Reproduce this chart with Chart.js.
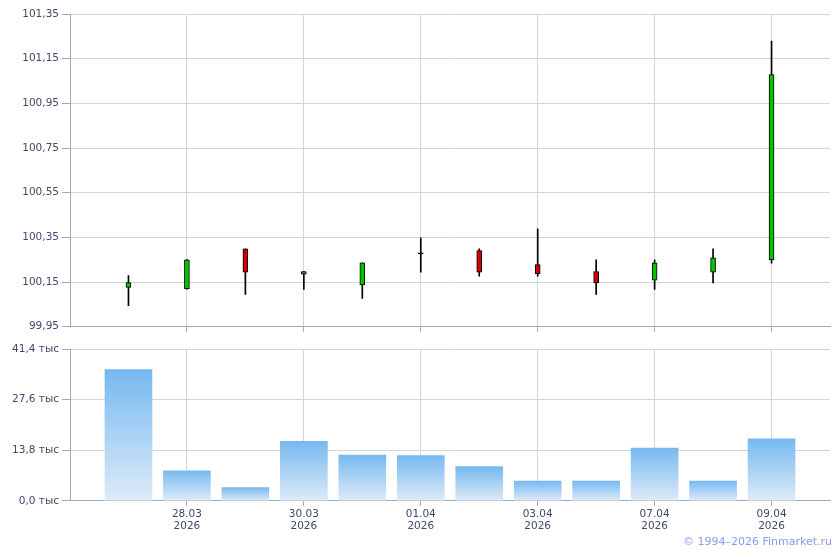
<!DOCTYPE html>
<html>
<head>
<meta charset="utf-8">
<script src="https://cdn.jsdelivr.net/npm/chart.js@4"></script>
<style>
    html, body { margin: 0; padding: 0; background: #fff; }
    #wrap { position: relative; width: 840px; height: 550px; }
    #priceBox { position: absolute; left: 0; top: 0; width: 840px; height: 336px; }
    #volBox { position: absolute; left: 0; top: 335px; width: 840px; height: 200px; }
    #copy {
        position: absolute; right: 8px; top: 535px;
        font: 11px Verdana, "DejaVu Sans", sans-serif; color: #8a9af0;
    }
</style>
</head>
<body>
<div id="wrap">
    <div id="priceBox"><canvas id="priceChart"></canvas></div>
    <div id="volBox"><canvas id="volChart"></canvas></div>
    <div id="copy">© 1994–2026 Finmarket.ru</div>
</div>
<script>
'use strict';

// даты торгов
const dates = ['27.03', '28.03', '29.03', '30.03', '31.03', '01.04', '02.04', '03.04', '06.04', '07.04', '08.04', '09.04'];
const year = '2026';

// цены (открытие, максимум, минимум, закрытие)
const opens  = [100.126, 100.119, 100.299, 100.185, 100.137, 100.276, 100.291, 100.228, 100.197, 100.158, 100.194, 100.249];
const highs  = [100.179, 100.250, 100.299, 100.197, 100.236, 100.348, 100.299, 100.388, 100.249, 100.249, 100.299, 101.229];
const lows   = [100.044, 100.118, 100.095, 100.117, 100.077, 100.194, 100.176, 100.176, 100.095, 100.117, 100.146, 100.234];
const closes = [100.147, 100.249, 100.194, 100.197, 100.236, 100.276, 100.194, 100.187, 100.146, 100.236, 100.258, 101.079];

// объём, тыс.
const volumes = [35.8, 8.2, 3.6, 16.2, 12.5, 12.3, 9.3, 5.4, 5.4, 14.4, 5.4, 16.9];

const priceTicks = [99.95, 100.15, 100.35, 100.55, 100.75, 100.95, 101.15, 101.35];
const volumeTicks = [0, 13.8, 27.6, 41.4];
const labeledPos = [2, 4, 6, 8, 10, 12];

const FONT = { family: 'Verdana, "DejaVu Sans", sans-serif', size: 10.5 };
const TEXT = '#3f4a68';
const AXIS = '#a4a8b4';
const GRID = '#d2d6dc';

function fmt(v, digits) {
    return v.toFixed(digits).replace('.', ',');
}

function xScale(showLabels) {
    return {
        type: 'linear',
        min: 0,
        max: 13,
        offset: false,
        afterBuildTicks: scale => { scale.ticks = labeledPos.map(v => ({ value: v })); },
        ticks: {
            display: showLabels,
            font: FONT,
            color: TEXT,
            padding: 2,
            maxRotation: 0,
            autoSkip: false,
            callback: value => [dates[value - 1], year]
        },
        grid: { color: GRID, tickLength: 5, tickColor: AXIS, offset: false },
        border: { color: AXIS }
    };
}

function yAxisWidth(scale) { scale.width = 70; }

// зелёная — рост, красная — падение, доджи — просто черта
const candleColor = ctx => {
    const o = opens[ctx.dataIndex], c = closes[ctx.dataIndex];
    if (o === c) return '#000';
    return c > o ? '#00c400' : '#d40000';
};

new Chart(document.getElementById('priceChart'), {
    type: 'bar',
    data: {
        datasets: [
            {
                label: 'wick',
                data: dates.map((d, i) => ({ x: i + 1, y: [lows[i], highs[i]] })),
                backgroundColor: '#000',
                barThickness: 1,
                grouped: false,
                order: 2
            },
            {
                label: 'body',
                data: dates.map((d, i) => ({ x: i + 1, y: [opens[i], closes[i]] })),
                backgroundColor: candleColor,
                borderColor: '#000',
                borderWidth: 1,
                borderSkipped: false,
                barThickness: 5,
                minBarLength: 1,
                grouped: false,
                order: 1
            }
        ]
    },
    options: {
        responsive: true,
        maintainAspectRatio: false,
        animation: false,
        layout: { padding: { top: 14, right: 10, left: 0, bottom: 0 } },
        plugins: { legend: { display: false }, tooltip: { enabled: false } },
        scales: {
            x: xScale(false),
            y: {
                min: 99.95,
                max: 101.35,
                afterBuildTicks: scale => { scale.ticks = priceTicks.map(v => ({ value: v })); },
                afterFit: yAxisWidth,
                ticks: { font: FONT, color: TEXT, padding: 3, callback: v => fmt(v, 2) },
                grid: { color: GRID, tickLength: 8, tickColor: AXIS },
                border: { color: AXIS }
            }
        }
    }
});

function barGradient(ctx) {
    const area = ctx.chart.chartArea;
    if (!area) return '#78bbf0';
    const top = ctx.chart.scales.y.getPixelForValue(volumes[ctx.dataIndex]);
    const g = ctx.chart.ctx.createLinearGradient(0, top, 0, area.bottom);
    g.addColorStop(0, '#76b9f0');
    g.addColorStop(1, '#deebf8');
    return g;
}

new Chart(document.getElementById('volChart'), {
    type: 'bar',
    data: {
        datasets: [{
            label: 'volume',
            data: dates.map((d, i) => ({ x: i + 1, y: volumes[i] })),
            backgroundColor: barGradient,
            barThickness: 47
        }]
    },
    options: {
        responsive: true,
        maintainAspectRatio: false,
        animation: false,
        layout: { padding: { top: 14, right: 10, left: 0, bottom: 0 } },
        plugins: { legend: { display: false }, tooltip: { enabled: false } },
        scales: {
            x: xScale(true),
            y: {
                min: 0,
                max: 41.4,
                afterBuildTicks: scale => { scale.ticks = volumeTicks.map(v => ({ value: v })); },
                afterFit: yAxisWidth,
                ticks: { font: FONT, color: TEXT, padding: 3, callback: v => fmt(v, 1) + ' тыс' },
                grid: { color: GRID, tickLength: 8, tickColor: AXIS },
                border: { color: AXIS }
            }
        }
    }
});
</script>
</body>
</html>
